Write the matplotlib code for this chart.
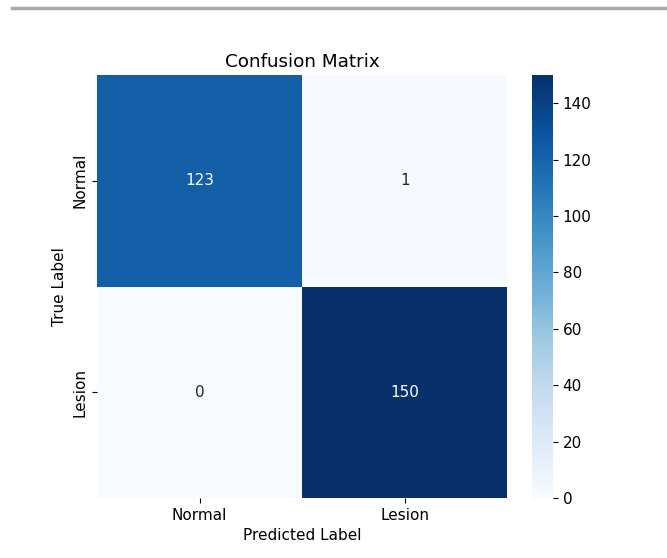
import numpy as np
import matplotlib
matplotlib.use("Agg")
import matplotlib.pyplot as plt
import seaborn as sns
from matplotlib.lines import Line2D

class_names = ["Normal", "Lesion"]
cm = np.array([[123, 1],
               [0, 150]])

fig = plt.figure(figsize=(6.67, 5.58), dpi=100)
ax = fig.add_axes([0.1454, 0.1075, 0.615, 0.758])
cax = fig.add_axes([0.7976, 0.1075, 0.0315, 0.758])

sns.heatmap(cm, annot=True, fmt="d", cmap="Blues", vmin=0, vmax=150,
            xticklabels=class_names, yticklabels=class_names,
            ax=ax, cbar_ax=cax, annot_kws={"fontsize": 11})

ax.set_title("Confusion Matrix", fontsize=13.2)
ax.set_xlabel("Predicted Label", fontsize=11)
ax.set_ylabel("True Label", fontsize=11)
ax.tick_params(labelsize=11)
cax.tick_params(labelsize=11)

# separator rule at the top of the cell output
fig.add_artist(Line2D([0.018, 1.0], [0.985, 0.985], color="#a8a8a8", lw=2.5,
                      transform=fig.transFigure))

fig.savefig("out.png", dpi=100)
